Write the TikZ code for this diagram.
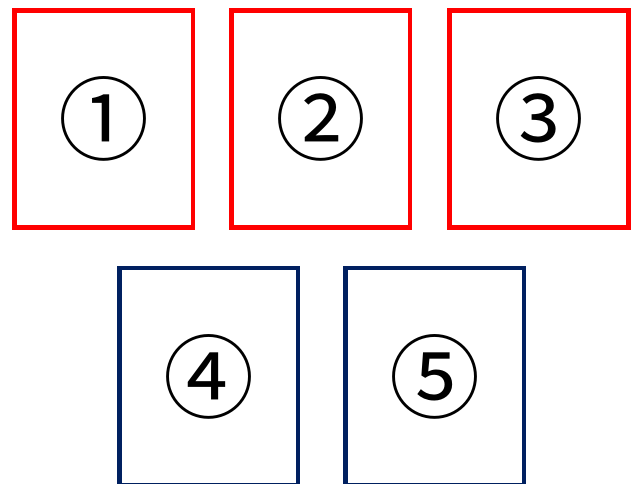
\documentclass[tikz,border=0pt]{standalone}
\usepackage{fontspec}
\newfontfamily\cjk{Noto Sans CJK JP}
\definecolor{boxred}{HTML}{FF0000}
\definecolor{boxblue}{HTML}{002060}
\tikzset{
  card/.style={draw, line width=4.8pt, minimum width=178.5pt, minimum height=217pt,
    inner sep=0pt, outer sep=0pt, font=\cjk\fontsize{91}{91}\selectfont},
  redcard/.style={card, draw=boxred},
  bluecard/.style={card, draw=boxblue},
}
\begin{document}
\begin{tikzpicture}[x=1pt,y=-1pt]
\useasboundingbox (0,0) rectangle (634,484);
\clip (0,0) rectangle (634,484);
\node[redcard] (c1) at (103.75,119) {①};
\node[redcard] (c2) at (320.75,119) {②};
\node[redcard] (c3) at (539,119) {③};
\node[bluecard] (c4) at (208.75,376.5) {④};
\node[bluecard] (c5) at (434.75,376.5) {⑤};
\end{tikzpicture}
\end{document}
